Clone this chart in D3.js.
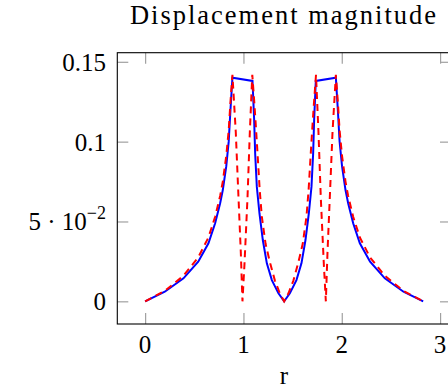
<!DOCTYPE html>
<html>
<head>
<meta charset="utf-8">
<script src="https://cdn.jsdelivr.net/npm/d3@7"></script>
<style>
body { margin: 0; background: #fff; }
svg { display: block; font-family: "Liberation Serif", "DejaVu Serif", serif; }
</style>
</head>
<body>
<script>
// r positions and magnitudes
var blueR = [0, 0.2, 0.39, 0.54, 0.644, 0.712, 0.763, 0.79, 0.825, 0.85, 0.868, 0.888,
             1.092, 1.109, 1.119, 1.136, 1.163, 1.197, 1.238, 1.289, 1.356, 1.414,
             1.472, 1.539, 1.59, 1.631, 1.665, 1.692, 1.709, 1.719, 1.736,
             1.94, 1.96, 1.978, 2.003, 2.038, 2.065, 2.116, 2.184, 2.288, 2.438, 2.628, 2.828];
var blueU = [0, 0.006, 0.0144, 0.0248, 0.0363, 0.0489, 0.0614, 0.0697, 0.0845, 0.1, 0.12, 0.14,
             0.138, 0.1136, 0.0927, 0.0718, 0.055, 0.0384, 0.0238, 0.0133, 0.005, 0,
             0.005, 0.0133, 0.0238, 0.0384, 0.055, 0.0718, 0.0927, 0.1136, 0.138,
             0.14, 0.12, 0.1, 0.0845, 0.0697, 0.0614, 0.0489, 0.0363, 0.0248, 0.0144, 0.006, 0];

var redR = [0, 0.2, 0.39, 0.54, 0.644, 0.712, 0.763, 0.79, 0.825, 0.85, 0.868, 0.888,
            0.922, 0.95, 0.973, 0.99, 1.01, 1.041, 1.065, 1.09,
            1.11, 1.128, 1.143, 1.165, 1.187, 1.225, 1.272, 1.32, 1.37, 1.414,
            1.458, 1.508, 1.556, 1.603, 1.641, 1.663, 1.685, 1.7, 1.718, 1.738,
            1.763, 1.787, 1.818, 1.838, 1.855, 1.878, 1.906, 1.94,
            1.96, 1.978, 2.003, 2.038, 2.065, 2.116, 2.184, 2.288, 2.438, 2.628, 2.828];
var redU = [0, 0.0065, 0.016, 0.0275, 0.04, 0.053, 0.066, 0.075, 0.091, 0.107, 0.125, 0.1418,
            0.106, 0.0645, 0.031, 0, 0.0227, 0.0645, 0.106, 0.1418,
            0.125, 0.108, 0.093, 0.07, 0.053, 0.036, 0.0238, 0.013, 0.005, 0,
            0.005, 0.013, 0.0238, 0.036, 0.053, 0.07, 0.093, 0.108, 0.125, 0.1418,
            0.106, 0.0645, 0.0227, 0, 0.031, 0.0645, 0.106, 0.1418,
            0.125, 0.107, 0.091, 0.075, 0.066, 0.053, 0.04, 0.0275, 0.016, 0.0065, 0];

var xTicks = [0, 1, 2, 3];
var yTicks = [0, 0.05, 0.1, 0.15];
var yTickLabels = ["0", "5 \u00b7 10|\u22122", "0.1", "0.15"];

var width = 448, height = 392,
    axL = 117.3, axR = 451, axT = 52.7, axB = 324,
    tick = 11;

var x = d3.scaleLinear().domain([-0.283, 3.111]).range([axL, axR]);
var y = d3.scaleLinear().domain([-0.0142, 0.1557]).range([axB, axT]);

var svg = d3.select("body").append("svg")
    .attr("width", width)
    .attr("height", height);

// ticks on all four sides, pointing inward
function styleTicks(g) {
    g.select(".domain").remove();
    g.selectAll(".tick line").attr("stroke", "#a0a0a0").attr("stroke-width", 1.2);
    g.selectAll(".tick text").remove();
}

svg.append("g").attr("transform", "translate(0," + axB + ")")
    .call(d3.axisBottom(x).tickValues(xTicks).tickSizeInner(-tick).tickSizeOuter(0))
    .call(styleTicks);
svg.append("g").attr("transform", "translate(0," + axT + ")")
    .call(d3.axisTop(x).tickValues(xTicks).tickSizeInner(-tick).tickSizeOuter(0))
    .call(styleTicks);
svg.append("g").attr("transform", "translate(" + axL + ",0)")
    .call(d3.axisLeft(y).tickValues(yTicks).tickSizeInner(-tick).tickSizeOuter(0))
    .call(styleTicks);
svg.append("g").attr("transform", "translate(" + axR + ",0)")
    .call(d3.axisRight(y).tickValues(yTicks).tickSizeInner(-tick).tickSizeOuter(0))
    .call(styleTicks);

var line = d3.line()
    .x(function(d) { return x(d[0]); })
    .y(function(d) { return y(d[1]); });

svg.append("path")
    .datum(d3.zip(blueR, blueU))
    .attr("fill", "none")
    .attr("stroke", "#0000ff")
    .attr("stroke-width", 2)
    .attr("stroke-linejoin", "miter")
    .attr("d", line);

svg.append("path")
    .datum(d3.zip(redR, redU))
    .attr("fill", "none")
    .attr("stroke", "#ff0000")
    .attr("stroke-width", 2)
    .attr("stroke-dasharray", "7,5")
    .attr("stroke-linejoin", "miter")
    .attr("d", line);

svg.append("rect")
    .attr("x", axL).attr("y", axT)
    .attr("width", axR - axL).attr("height", axB - axT)
    .attr("fill", "none")
    .attr("stroke", "#000")
    .attr("stroke-width", 1.1);

// tick labels
svg.append("g").selectAll("text")
    .data(xTicks)
    .enter().append("text")
    .attr("x", function(d) { return x(d); })
    .attr("y", 353)
    .attr("text-anchor", "middle")
    .attr("font-size", 25)
    .text(function(d) { return d; });

var yl = svg.append("g").selectAll("text")
    .data(yTicks)
    .enter().append("text")
    .attr("x", 106)
    .attr("y", function(d) { return y(d) + 9; })
    .attr("text-anchor", "end")
    .attr("font-size", 25);

yl.each(function(d, i) {
    var parts = yTickLabels[i].split("|");
    var t = d3.select(this);
    t.append("tspan").text(parts[0]);
    if (parts[1]) {
        t.append("tspan").attr("dy", -11).attr("font-size", 18).text(parts[1]);
    }
});

svg.append("text")
    .attr("x", 284).attr("y", 24)
    .attr("text-anchor", "middle")
    .attr("font-size", 26.5)
    .attr("letter-spacing", 2)
    .text("Displacement magnitude");

svg.append("text")
    .attr("x", 284).attr("y", 384)
    .attr("text-anchor", "middle")
    .attr("font-size", 25)
    .text("r");
</script>
</body>
</html>
